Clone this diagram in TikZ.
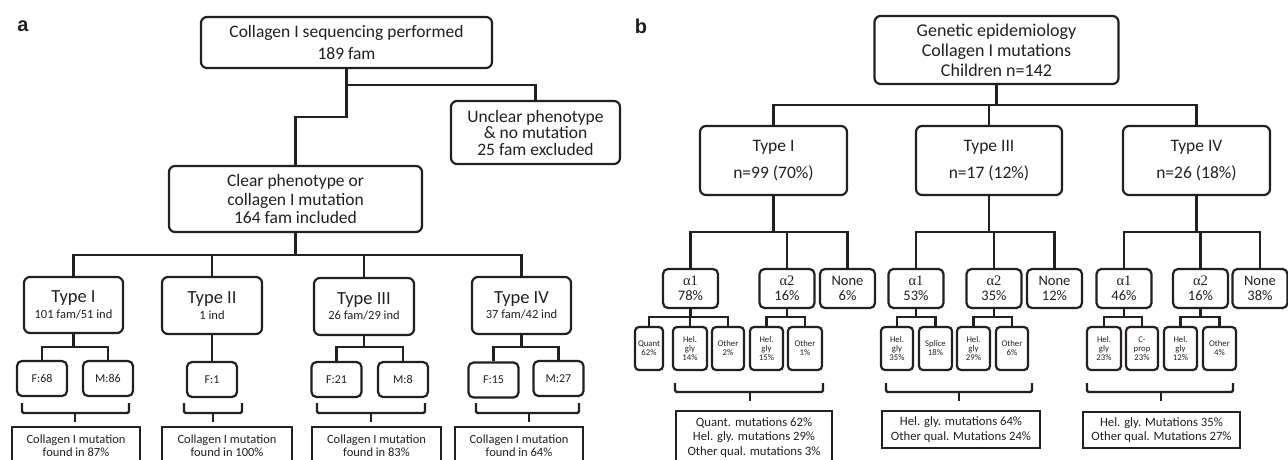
\documentclass[tikz,border=0pt]{standalone}
\usepackage{fontspec}
\setmainfont{Carlito}
\newfontfamily\serifg{Liberation Serif}
\newfontfamily\labfont{Liberation Sans}
\definecolor{ink}{HTML}{231F20}
\begin{document}
\begin{tikzpicture}[x=1pt,y=-1pt,
  ln/.style={draw=ink,line width=2.2pt},
  rbox/.style={draw=ink,line width=2.2pt,rounded corners=6pt,inner sep=0pt,align=center,text=ink},
  fbox/.style={draw=ink,line width=2.2pt,rounded corners=5pt,inner sep=0pt,align=center,text=ink,minimum width=50pt,minimum height=35pt,font=\fontsize{12}{12}\selectfont},
  sbox/.style={draw=ink,line width=2.2pt,inner sep=0pt,align=center,text=ink},
  abox/.style={draw=ink,line width=2.2pt,rounded corners=5pt,inner sep=0pt,align=center,text=ink,minimum width=55pt,minimum height=39pt,font=\fontsize{14.5}{14.5}\selectfont},
  cbox/.style={draw=ink,line width=2.2pt,rounded corners=4pt,inner sep=0pt,align=center,text=ink,minimum height=43pt,font=\fontsize{8.7}{9}\selectfont},
  lab/.style={font=\labfont\bfseries\fontsize{20}{20}\selectfont,text=ink,inner sep=0pt}
]
\useasboundingbox (0,0) rectangle (1288,459);
\clip (0,0) rectangle (1288,459);
\fill[white] (0,0) rectangle (1288,459);

% ---------------- panel a ----------------
\node[lab] (la) at (23,26) {a};
\node[rbox,minimum width=291pt,minimum height=51pt,font=\fontsize{17.5}{22}\selectfont] (topa) at (346.5,42.5) {Collagen I sequencing performed\\189 fam};
\node[rbox,minimum width=169pt,minimum height=63pt,font=\fontsize{17.5}{16.5}\selectfont] (uncl) at (535.5,132.5) {Unclear phenotype\\\& no mutation\\25 fam excluded};
\node[rbox,minimum width=253pt,minimum height=66pt,font=\fontsize{17.5}{18.5}\selectfont] (clr) at (295.5,199) {Clear phenotype or\\collagen I mutation\\164 fam included};

\node[rbox,minimum width=99pt,minimum height=56pt,font=\fontsize{12.5}{15.5}\selectfont] (ta1) at (73.5,305) {{\fontsize{18.5}{18.5}\selectfont Type I}\\101 fam/51 ind};
\node[rbox,minimum width=100pt,minimum height=57pt,font=\fontsize{12.5}{15.5}\selectfont] (ta2) at (212,305.5) {{\fontsize{18.5}{18.5}\selectfont Type II}\\1 ind};
\node[rbox,minimum width=100pt,minimum height=57pt,font=\fontsize{12.5}{15.5}\selectfont] (ta3) at (364,306.5) {{\fontsize{18.5}{18.5}\selectfont Type III}\\26 fam/29 ind};
\node[rbox,minimum width=99pt,minimum height=57pt,font=\fontsize{12.5}{15.5}\selectfont] (ta4) at (521.5,305.5) {{\fontsize{18.5}{18.5}\selectfont Type IV}\\37 fam/42 ind};

\node[fbox] (f1) at (42,378.5) {F:68};
\node[fbox] (m1) at (108,378.5) {M:86};
\node[fbox] (f2) at (212,379.5) {F:1};
\node[fbox] (f3) at (336.5,379.5) {F:21};
\node[fbox] (m3) at (403,379.5) {M:8};
\node[fbox] (f4) at (493.5,380) {F:15};
\node[fbox] (m4) at (558.5,378.5) {M:27};

\node[sbox,minimum width=128pt,minimum height=37pt,font=\fontsize{12.5}{13}\selectfont] (ra1) at (76,445.5) {Collagen I mutation\\found in 87\%};
\node[sbox,minimum width=130pt,minimum height=37pt,font=\fontsize{12.5}{13}\selectfont] (ra2) at (227,445.5) {Collagen I mutation\\found in 100\%};
\node[sbox,minimum width=129pt,minimum height=37pt,font=\fontsize{12.5}{13}\selectfont] (ra3) at (376.5,445.5) {Collagen I mutation\\found in 83\%};
\node[sbox,minimum width=128pt,minimum height=37pt,font=\fontsize{12.5}{13}\selectfont] (ra4) at (519,445.5) {Collagen I mutation\\found in 64\%};

\coordinate (ja1) at (0,85);
\coordinate (ja2) at (0,117);
\coordinate (jt) at (0,255);
\coordinate (jfa) at (0,347);

\draw[ln] (topa.south) -- (topa.south|-ja1) -| (uncl.north);
\draw[ln] (topa.south|-ja1) |- (clr.north|-ja2) -- (clr.north);
\draw[ln] (clr.south) -- (clr.south|-jt);
\draw[ln] (ta1.north) -- (ta1.north|-jt) -- (ta4.north|-jt) -- (ta4.north);
\draw[ln] (ta2.north) -- (ta2.north|-jt);
\draw[ln] (ta3.north) -- (ta3.north|-jt);

\draw[ln] (ta1.south) -- (ta1.south|-jfa);
\draw[ln] (f1.north) |- (m1.north|-jfa) -- (m1.north);
\draw[ln] (ta2.south) -- (f2.north);
\draw[ln] (ta3.south) -- (ta3.south|-jfa);
\draw[ln] (f3.north) |- (m3.north|-jfa) -- (m3.north);
\draw[ln] (ta4.south) -- (ta4.south|-jfa);
\draw[ln] (f4.north) |- (m4.north|-jfa) -- (m4.north);

% brackets panel a
\foreach \l/\r/\t in {22/129/75, 184/242/213, 317/425/371, 476/579/529}{
  \draw[ln,rounded corners=1.5pt] (\l,403) -- (\l,413) -- (\r,413) -- (\r,403);
  \draw[ln] (\t,413) -- (\t,422);
}

% ---------------- panel b ----------------
\node[lab] (lb) at (641,26) {b};
\node[rbox,minimum width=244pt,minimum height=68pt,font=\fontsize{18}{20}\selectfont] (topb) at (996.5,50) {Genetic epidemiology\\Collagen I mutations\\Children n=142};

\node[rbox,minimum width=147pt,minimum height=69pt,font=\fontsize{17.5}{27}\selectfont] (tb1) at (773.5,160.5) {Type I\\n=99 (70\%)};
\node[rbox,minimum width=146pt,minimum height=69pt,font=\fontsize{17.5}{27}\selectfont] (tb3) at (989,160.5) {Type III\\n=17 (12\%)};
\node[rbox,minimum width=147pt,minimum height=69pt,font=\fontsize{17.5}{27}\selectfont] (tb4) at (1196.5,160.5) {Type IV\\n=26 (18\%)};

\node[abox] (a11) at (690.5,288.5) {{\serifg α1}\\78\%};
\node[abox] (a12) at (787,288.5) {{\serifg α2}\\16\%};
\node[abox] (n1) at (847.5,288.5) {None\\6\%};
\node[abox] (a31) at (916,288.5) {{\serifg α1}\\53\%};
\node[abox] (a32) at (994,288.5) {{\serifg α2}\\35\%};
\node[abox] (n3) at (1054.5,288.5) {None\\12\%};
\node[abox] (a41) at (1124,288.5) {{\serifg α1}\\46\%};
\node[abox] (a42) at (1200.5,288.5) {{\serifg α2}\\16\%};
\node[abox] (n4) at (1260,288.5) {None\\38\%};

\node[cbox,minimum width=28pt] (c111) at (649,348.5) {Quant\\62\%};
\node[cbox,minimum width=34pt] (c112) at (690,348.5) {Hel.\\gly\\14\%};
\node[cbox,minimum width=32pt] (c113) at (728,348.5) {Other\\2\%};
\node[cbox,minimum width=33pt] (c121) at (766.5,348.5) {Hel.\\gly\\15\%};
\node[cbox,minimum width=34pt] (c122) at (805,348.5) {Other\\1\%};

\node[cbox,minimum width=32pt] (c311) at (897,348.5) {Hel.\\gly\\35\%};
\node[cbox,minimum width=33pt] (c312) at (935.5,348.5) {Splice\\18\%};
\node[cbox,minimum width=33pt] (c321) at (973.5,348.5) {Hel.\\gly\\29\%};
\node[cbox,minimum width=32pt] (c322) at (1012,348.5) {Other\\6\%};

\node[cbox,minimum width=34pt] (c411) at (1104,348.5) {Hel.\\gly\\23\%};
\node[cbox,minimum width=32pt] (c412) at (1142,348.5) {C-\\prop\\23\%};
\node[cbox,minimum width=33pt] (c421) at (1180.5,348.5) {Hel.\\gly\\12\%};
\node[cbox,minimum width=33pt] (c422) at (1219.5,348.5) {Other\\4\%};

\node[sbox,minimum width=156pt,minimum height=53pt,font=\fontsize{12.7}{14.5}\selectfont] (rb1) at (754,437.5) {Quant. mutations 62\%\\Hel. gly. mutations 29\%\\Other qual. mutations 3\%};
\node[sbox,minimum width=158pt,minimum height=37pt,font=\fontsize{12.7}{14.5}\selectfont] (rb3) at (961,429.5) {Hel. gly. mutations 64\%\\Other qual. Mutations 24\%};
\node[sbox,minimum width=157pt,minimum height=36pt,font=\fontsize{12.7}{14.5}\selectfont] (rb4) at (1161.5,430) {Hel. gly. Mutations 35\%\\Other qual. Mutations 27\%};

\coordinate (jb1) at (0,105);
\coordinate (jb2) at (0,232);
\coordinate (jb3) at (0,317);

\draw[ln] (topb.south) -- (topb.south|-jb1);
\draw[ln] (tb1.north) -- (tb1.north|-jb1) -- (tb4.north|-jb1) -- (tb4.north);
\draw[ln] (tb3.north) -- (tb3.north|-jb1);

\draw[ln] (tb1.south) -- (tb1.south|-jb2);
\draw[ln] (a11.north) -- (a11.north|-jb2) -- (n1.north|-jb2) -- (n1.north);
\draw[ln] (a12.north) -- (a12.north|-jb2);
\draw[ln] (tb3.south) -- (tb3.south|-jb2);
\draw[ln] (a31.north) -- (a31.north|-jb2) -- (n3.north|-jb2) -- (n3.north);
\draw[ln] (a32.north) -- (a32.north|-jb2);
\draw[ln] (tb4.south) -- (tb4.south|-jb2);
\draw[ln] (a41.north) -- (a41.north|-jb2) -- (n4.north|-jb2) -- (n4.north);
\draw[ln] (a42.north) -- (a42.north|-jb2);

\draw[ln] (a11.south) -- (a11.south|-jb3);
\draw[ln] (c111.north) -- (c111.north|-jb3) -- (c113.north|-jb3) -- (c113.north);
\draw[ln] (c112.north) -- (c112.north|-jb3);
\draw[ln] (a12.south) -- (a12.south|-jb3);
\draw[ln] (c121.north) |- (c122.north|-jb3) -- (c122.north);
\draw[ln] (a31.south) -- (a31.south|-jb3);
\draw[ln] (c311.north) |- (c312.north|-jb3) -- (c312.north);
\draw[ln] (a32.south) -- (a32.south|-jb3);
\draw[ln] (c321.north) |- (c322.north|-jb3) -- (c322.north);
\draw[ln] (a41.south) -- (a41.south|-jb3);
\draw[ln] (c411.north) |- (c412.north|-jb3) -- (c412.north);
\draw[ln] (a42.south) -- (a42.south|-jb3);
\draw[ln] (c421.north) |- (c422.north|-jb3) -- (c422.north);

% brackets panel b
\foreach \l/\r/\t in {675/823/750, 886/1032/959, 1087/1233/1161}{
  \draw[ln,rounded corners=1.5pt] (\l,383) -- (\l,392) -- (\r,392) -- (\r,383);
  \draw[ln] (\t,392) -- (\t,401);
}
\end{tikzpicture}
\end{document}
